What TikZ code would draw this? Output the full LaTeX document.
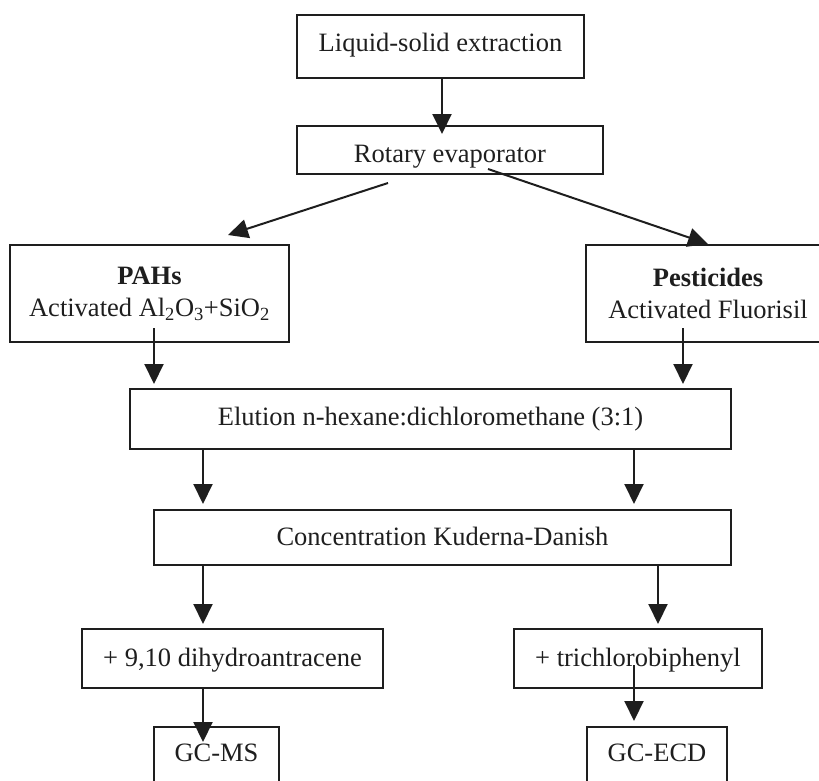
\documentclass[tikz,border=0pt]{standalone}
\usepackage{fontspec}
\setmainfont{Liberation Serif}
\usetikzlibrary{arrows.meta}
\definecolor{ink}{RGB}{30,30,30}
\begin{document}
\begin{tikzpicture}[x=1pt,y=-1pt,
  font=\fontsize{26.5}{32}\selectfont,
  box/.style={draw=ink, line width=2pt, rectangle, inner sep=0pt, text=ink},
  oneline/.style={text height=18pt, text depth=3pt},
  arr/.style={draw=ink, line width=2pt, -{Triangle[length=20pt,width=19pt]}}]
\useasboundingbox (0,0) rectangle (819,780);
\clip (0,0) rectangle (819,780);

% process steps
\node[box, oneline, text depth=9pt, minimum width=287, minimum height=63] (ext) at (440.5,46.5) {Liquid-solid extraction};
\node[box, oneline, text height=24pt, text depth=0pt, minimum width=306, minimum height=48] (rot) at (450,150) {Rotary evaporator};
\node[box, align=center, minimum width=279, minimum height=97] (pahs) at (149.5,293.5)
  {\textbf{PAHs}\\Activated Al\textsubscript{2}O\textsubscript{3}+SiO\textsubscript{2}};
\node[box, align=center, minimum width=244, minimum height=97] (pest) at (708,293.5)
  {\textbf{Pesticides}\\Activated Fluorisil};
\node[box, oneline, text depth=6pt, minimum width=601, minimum height=60] (elu) at (430.5,419) {Elution n-hexane:dichloromethane (3:1)};
\node[box, oneline, minimum width=577, minimum height=55] (conc) at (442.5,537.5) {Concentration Kuderna-Danish};
\node[box, oneline, minimum width=301, minimum height=59] (dhy) at (232.5,658.5) {+ 9,10 dihydroantracene};
\node[box, oneline, minimum width=248, minimum height=59] (tcb) at (638,658.5) {+ trichlorobiphenyl};

% detectors (boxes run past the lower edge)
\node[box, anchor=north, minimum width=125, text height=18pt, text depth=30pt, inner ysep=16pt] (gcms) at (216.5,726) {GC-MS};
\node[box, anchor=north, minimum width=140, text height=18pt, text depth=30pt, inner ysep=16pt] (gcecd) at (657,726) {GC-ECD};

% connectors
\draw[arr] ([xshift=1.5pt]ext.south) -- ([xshift=-8pt,yshift=-9pt]rot.north);
\draw[arr] ([xshift=-62pt,yshift=-8pt]rot.south) -- ([xshift=78.5pt,yshift=9pt]pahs.north);
\draw[arr] ([xshift=38pt,yshift=6pt]rot.south) -- (pest.north);
\draw[arr] ([xshift=4.5pt,yshift=15pt]pahs.south) -- ([xshift=-276.5pt,yshift=4pt]elu.north);
\draw[arr] ([xshift=-25pt,yshift=15pt]pest.south) -- ([xshift=252.5pt,yshift=4pt]elu.north);
\draw[arr] ([xshift=-227.5pt]elu.south) -- ([xshift=-239.5pt,yshift=5pt]conc.north);
\draw[arr] ([xshift=203.5pt]elu.south) -- ([xshift=191.5pt,yshift=5pt]conc.north);
\draw[arr] ([xshift=-239.5pt]conc.south) -- ([xshift=-29.5pt,yshift=4pt]dhy.north);
\draw[arr] ([xshift=215.5pt]conc.south) -- ([xshift=20pt,yshift=4pt]tcb.north);
\draw[arr] ([xshift=-29.5pt]dhy.south) -- ([xshift=-13.5pt,yshift=-16pt]gcms.north);
\draw[arr] ([xshift=-4pt,yshift=24pt]tcb.south) -- ([xshift=-23pt,yshift=5pt]gcecd.north);
\end{tikzpicture}
\end{document}
